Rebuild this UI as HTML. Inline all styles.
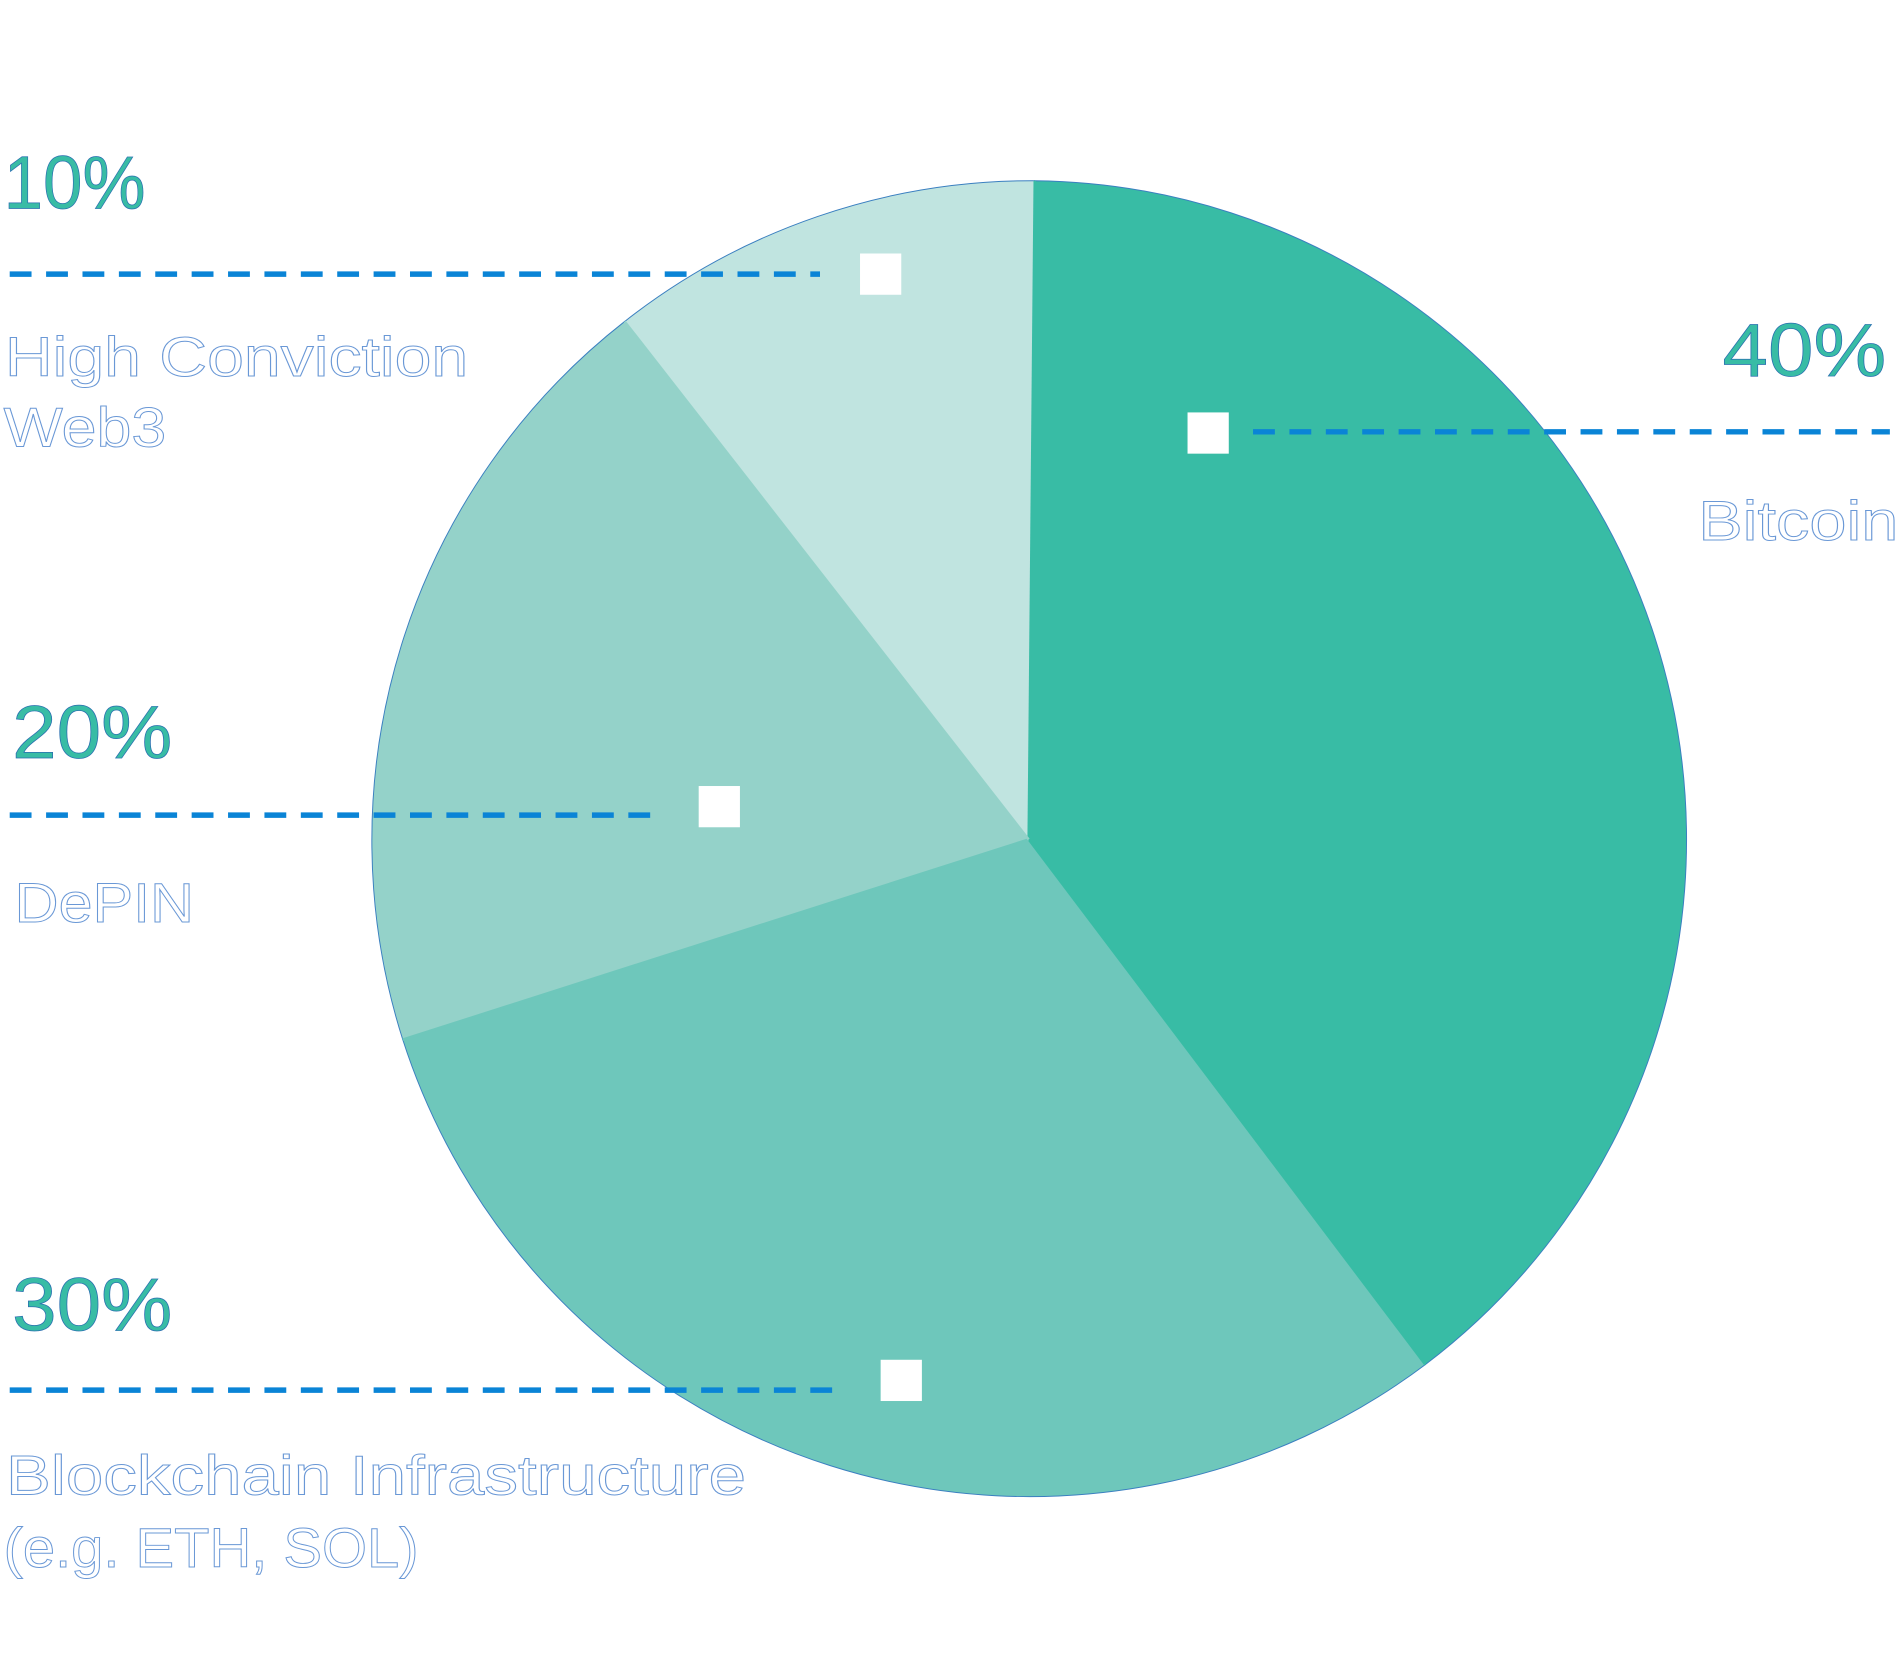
<!DOCTYPE html>
<html>
<head>
<meta charset="utf-8">
<style>
html,body{margin:0;padding:0;background:#fff;}
svg{display:block;}
.pct{font-family:"Liberation Sans",sans-serif;font-size:62px;fill:#38bca5;stroke:#2a6fb0;stroke-width:0.6px;}
.lbl{font-family:"Liberation Sans",sans-serif;font-size:46px;fill:#fff;stroke:#6a98d6;stroke-width:0.8px;}
</style>
</head>
<body>
<svg width="1902" height="1680" viewBox="0 0 1568 1385" preserveAspectRatio="none" xmlns="http://www.w3.org/2000/svg">
  <rect width="1568" height="1385" fill="#fff"/>
  <g stroke="#3a7fc0" stroke-width="0.8">
    <path d="M848,692 L853,149 A543,543 0 0 1 1175,1125 Z" fill="#38bca5"/>
    <path d="M848,692 L1175,1125 A543,543 0 0 1 332,857 Z" fill="#6ec7bb"/>
    <path d="M848,692 L332,857 A543,543 0 0 1 515,265 Z" fill="#94d2c9"/>
    <path d="M848,692 L515,265 A543,543 0 0 1 853,149 Z" fill="#c0e4e0"/>
  </g>
  <g fill="none" stroke-width="2">
    <line x1="848" y1="692" x2="853" y2="149" stroke="#38bca5"/>
    <line x1="848" y1="692" x2="1175" y2="1125" stroke="#38bca5"/>
    <line x1="848" y1="692" x2="332" y2="857" stroke="#6ec7bb"/>
    <line x1="848" y1="692" x2="515" y2="265" stroke="#94d2c9"/>
  </g>
  <g stroke="#0a84d6" stroke-width="4.5" stroke-dasharray="18 12" fill="none">
    <line x1="8" y1="226" x2="676" y2="226"/>
    <line x1="1033" y1="356" x2="1558" y2="356"/>
    <line x1="8" y1="672" x2="542" y2="672"/>
    <line x1="8" y1="1146" x2="698" y2="1146"/>
  </g>
  <g fill="#fff">
    <rect x="709" y="209" width="34" height="34"/>
    <rect x="979" y="340" width="34" height="34"/>
    <rect x="576" y="648" width="34" height="34"/>
    <rect x="726" y="1121" width="34" height="34"/>
  </g>
  <text class="pct" x="3" y="172" textLength="117" lengthAdjust="spacingAndGlyphs">10%</text>
  <text class="pct" x="1420" y="310" textLength="135" lengthAdjust="spacingAndGlyphs">40%</text>
  <text class="pct" x="10" y="625" textLength="132" lengthAdjust="spacingAndGlyphs">20%</text>
  <text class="pct" x="10" y="1097" textLength="132" lengthAdjust="spacingAndGlyphs">30%</text>

  <text class="lbl" x="4" y="310" textLength="382" lengthAdjust="spacingAndGlyphs">High Conviction</text>
  <text class="lbl" x="3" y="368" textLength="134" lengthAdjust="spacingAndGlyphs">Web3</text>
  <text class="lbl" x="1400" y="445" textLength="165" lengthAdjust="spacingAndGlyphs">Bitcoin</text>
  <text class="lbl" x="12" y="760" textLength="148" lengthAdjust="spacingAndGlyphs">DePIN</text>
  <text class="lbl" x="5" y="1232" textLength="610" lengthAdjust="spacingAndGlyphs">Blockchain Infrastructure</text>
  <text class="lbl" x="3" y="1292" textLength="342" lengthAdjust="spacingAndGlyphs">(e.g. ETH, SOL)</text>
</svg>
</body>
</html>
